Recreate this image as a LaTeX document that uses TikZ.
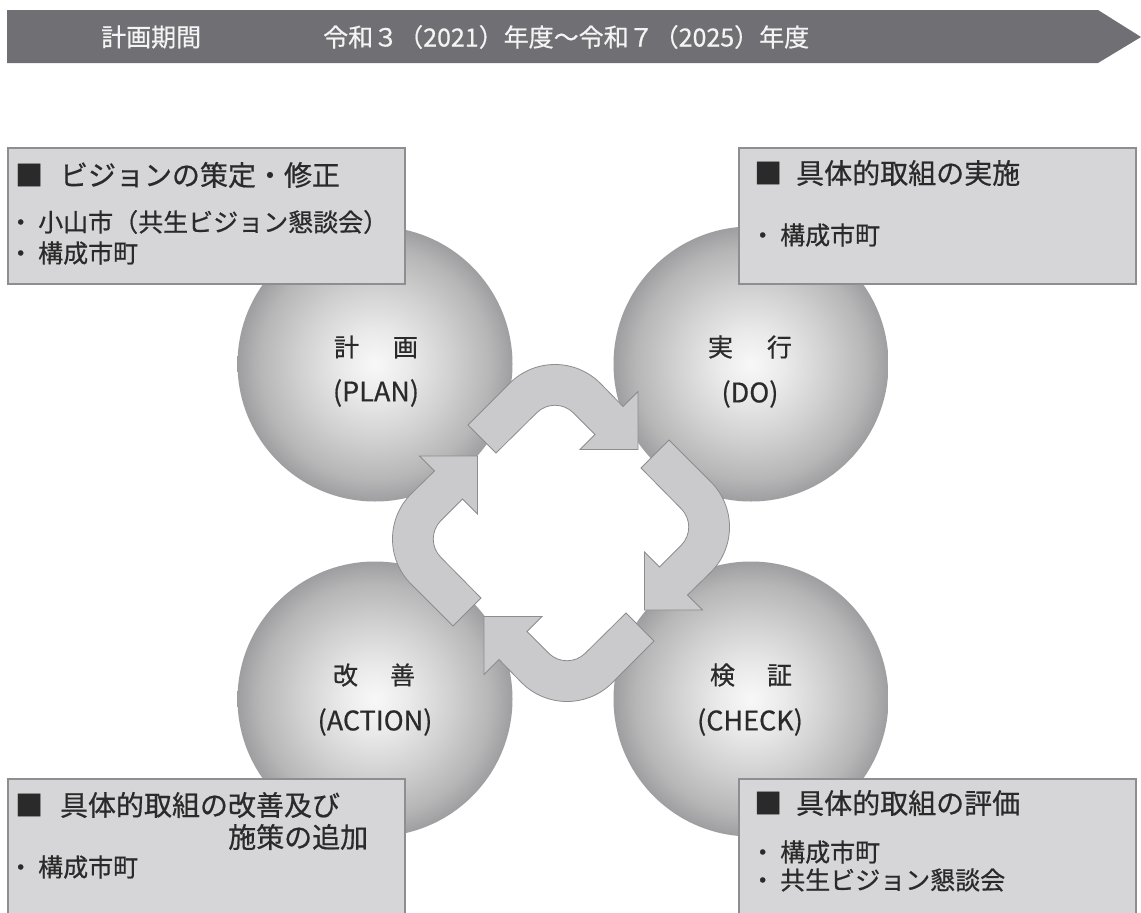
\documentclass[tikz,border=0pt]{standalone}
\usepackage{fontspec}
\setmainfont{Noto Sans CJK JP}[FakeBold=0.6]
\usetikzlibrary{calc}
\definecolor{bannerfill}{HTML}{707074}
\definecolor{bannerink}{HTML}{F4F4F4}
\definecolor{boxfill}{HTML}{D6D6D8}
\definecolor{boxline}{HTML}{8E8E90}
\definecolor{inkdark}{HTML}{2A2A2A}
\definecolor{arrowfill}{HTML}{CACACC}
\definecolor{arrowline}{HTML}{8C8C8E}
\definecolor{ballA}{HTML}{F8F8F8}
\definecolor{ballB}{HTML}{EAEAEA}
\definecolor{ballC}{HTML}{D0D0D1}
\definecolor{ballD}{HTML}{B6B6B7}
\definecolor{ballE}{HTML}{9E9EA0}
\pgfdeclareradialshading{ballshade}{\pgfpoint{0bp}{0bp}}{color(0bp)=(ballA); color(6bp)=(ballB); color(14bp)=(ballC); color(21bp)=(ballD); color(25bp)=(ballE); color(50bp)=(ballE)}
\begin{document}
\begin{tikzpicture}[x=1pt,y=-1pt,
  bannertext/.style={inner sep=0pt, text=bannerink, font=\fontsize{25}{30}\selectfont},
  ball/.style={circle, minimum size=275pt, inner sep=0pt, shade, shading=ballshade},
  cyclearrow/.style={fill=arrowfill, draw=arrowline, line width=0.8pt, line join=miter},
  infobox/.style={rectangle, fill=boxfill, draw=boxline, line width=1.6pt, inner sep=0pt, anchor=north west},
  titletext/.style={inner sep=0pt, anchor=west, text=inkdark, font=\fontsize{28}{32}\selectfont},
  itemtext/.style={inner sep=0pt, anchor=west, text=inkdark, font=\fontsize{25}{30}\selectfont},
  balljp/.style={inner sep=0pt, text=inkdark, font=\fontsize{25}{30}\selectfont},
  ballen/.style={inner sep=0pt, text=inkdark, font=\fontsize{27}{32}\selectfont}]
\useasboundingbox (0,0) rectangle (1141,913);
\path[fill=white] (0,0) rectangle (1141,913);

% banner
\path[fill=bannerfill] (7,10) -- (1098,10) -- (1141,37) -- (1098,63) -- (7,63) -- cycle;
\node[bannertext, anchor=west] (period) at (101,37) {計画期間};
\node[bannertext, anchor=west] (years) at (323,37) {令和３（2021）年度～令和７（2025）年度};

% spheres
\node[ball] (plan) at (375,364) {};
\node[ball] (do) at (751,364) {};
\node[ball] (action) at (375,699) {};
\node[ball] (check) at (751,699) {};

% cycle arrows
\foreach \ang in {0,-90,180,90}{
  \begin{scope}[shift={(561,533)}, rotate=\ang]
    \path[cyclearrow] (-93,-108) -- (-51.25,-149.75)
      .. controls (-26.25,-174.75) and (14.25,-174.75) .. (39.25,-149.75)
      -- (62,-126.5) -- (77,-141.5) -- (77,-83.5) -- (19,-83.5) -- (34,-98.5)
      -- (12.38,-120.12) .. controls (2.23,-130.27) and (-14.23,-130.27) .. (-24.38,-120.12)
      -- (-65,-80) -- cycle;
  \end{scope}
}

% sphere labels
\node[balljp] (planjp) at (376,347) {計\hspace{34pt}画};
\node[ballen] (planen) at (376,393) {(PLAN)};
\node[balljp] (dojp) at (750,347) {実\hspace{34pt}行};
\node[ballen] (doen) at (750,394) {(DO)};
\node[balljp] (actionjp) at (374,675) {改\hspace{32pt}善};
\node[ballen] (actionen) at (375,722) {(ACTION)};
\node[balljp] (checkjp) at (751,675) {検\hspace{32pt}証};
\node[ballen] (checken) at (750,722) {(CHECK)};

% boxes
\node[infobox, minimum width=397pt, minimum height=136pt] (boxplan) at (7,147) {};
\node[infobox, minimum width=397pt, minimum height=136pt] (boxdo) at (738,147) {};
\node[infobox, minimum width=397pt, minimum height=150pt] (boxaction) at (7,778) {};
\node[infobox, minimum width=397pt, minimum height=150pt] (boxcheck) at (738,778) {};

% box texts
\node[titletext] (tplan) at (15,175) {■\hspace{0.6em}ビジョンの策定・修正};
\node[itemtext] (iplanA) at (8,222) {・\hspace{5pt}小山市（共生ビジョン懇談会）};
\node[itemtext] (iplanB) at (8,253) {・\hspace{5pt}構成市町};

\node[titletext] (tdo) at (754,173) {■\hspace{0.5em}具体的取組の実施};
\node[itemtext] (idoA) at (750,235) {・\hspace{5pt}構成市町};

\node[titletext] (taction) at (15,805) {■\hspace{0.6em}具体的取組の改善及び};
\node[titletext] (tactionB) at (228,837) {施策の追加};
\node[itemtext] (iactionA) at (8,867) {・\hspace{5pt}構成市町};

\node[titletext] (tcheck) at (754,803) {■\hspace{0.5em}具体的取組の評価};
\node[itemtext] (icheckA) at (750,852) {・\hspace{5pt}構成市町};
\node[itemtext] (icheckB) at (750,880) {・\hspace{5pt}共生ビジョン懇談会};
\end{tikzpicture}
\end{document}
